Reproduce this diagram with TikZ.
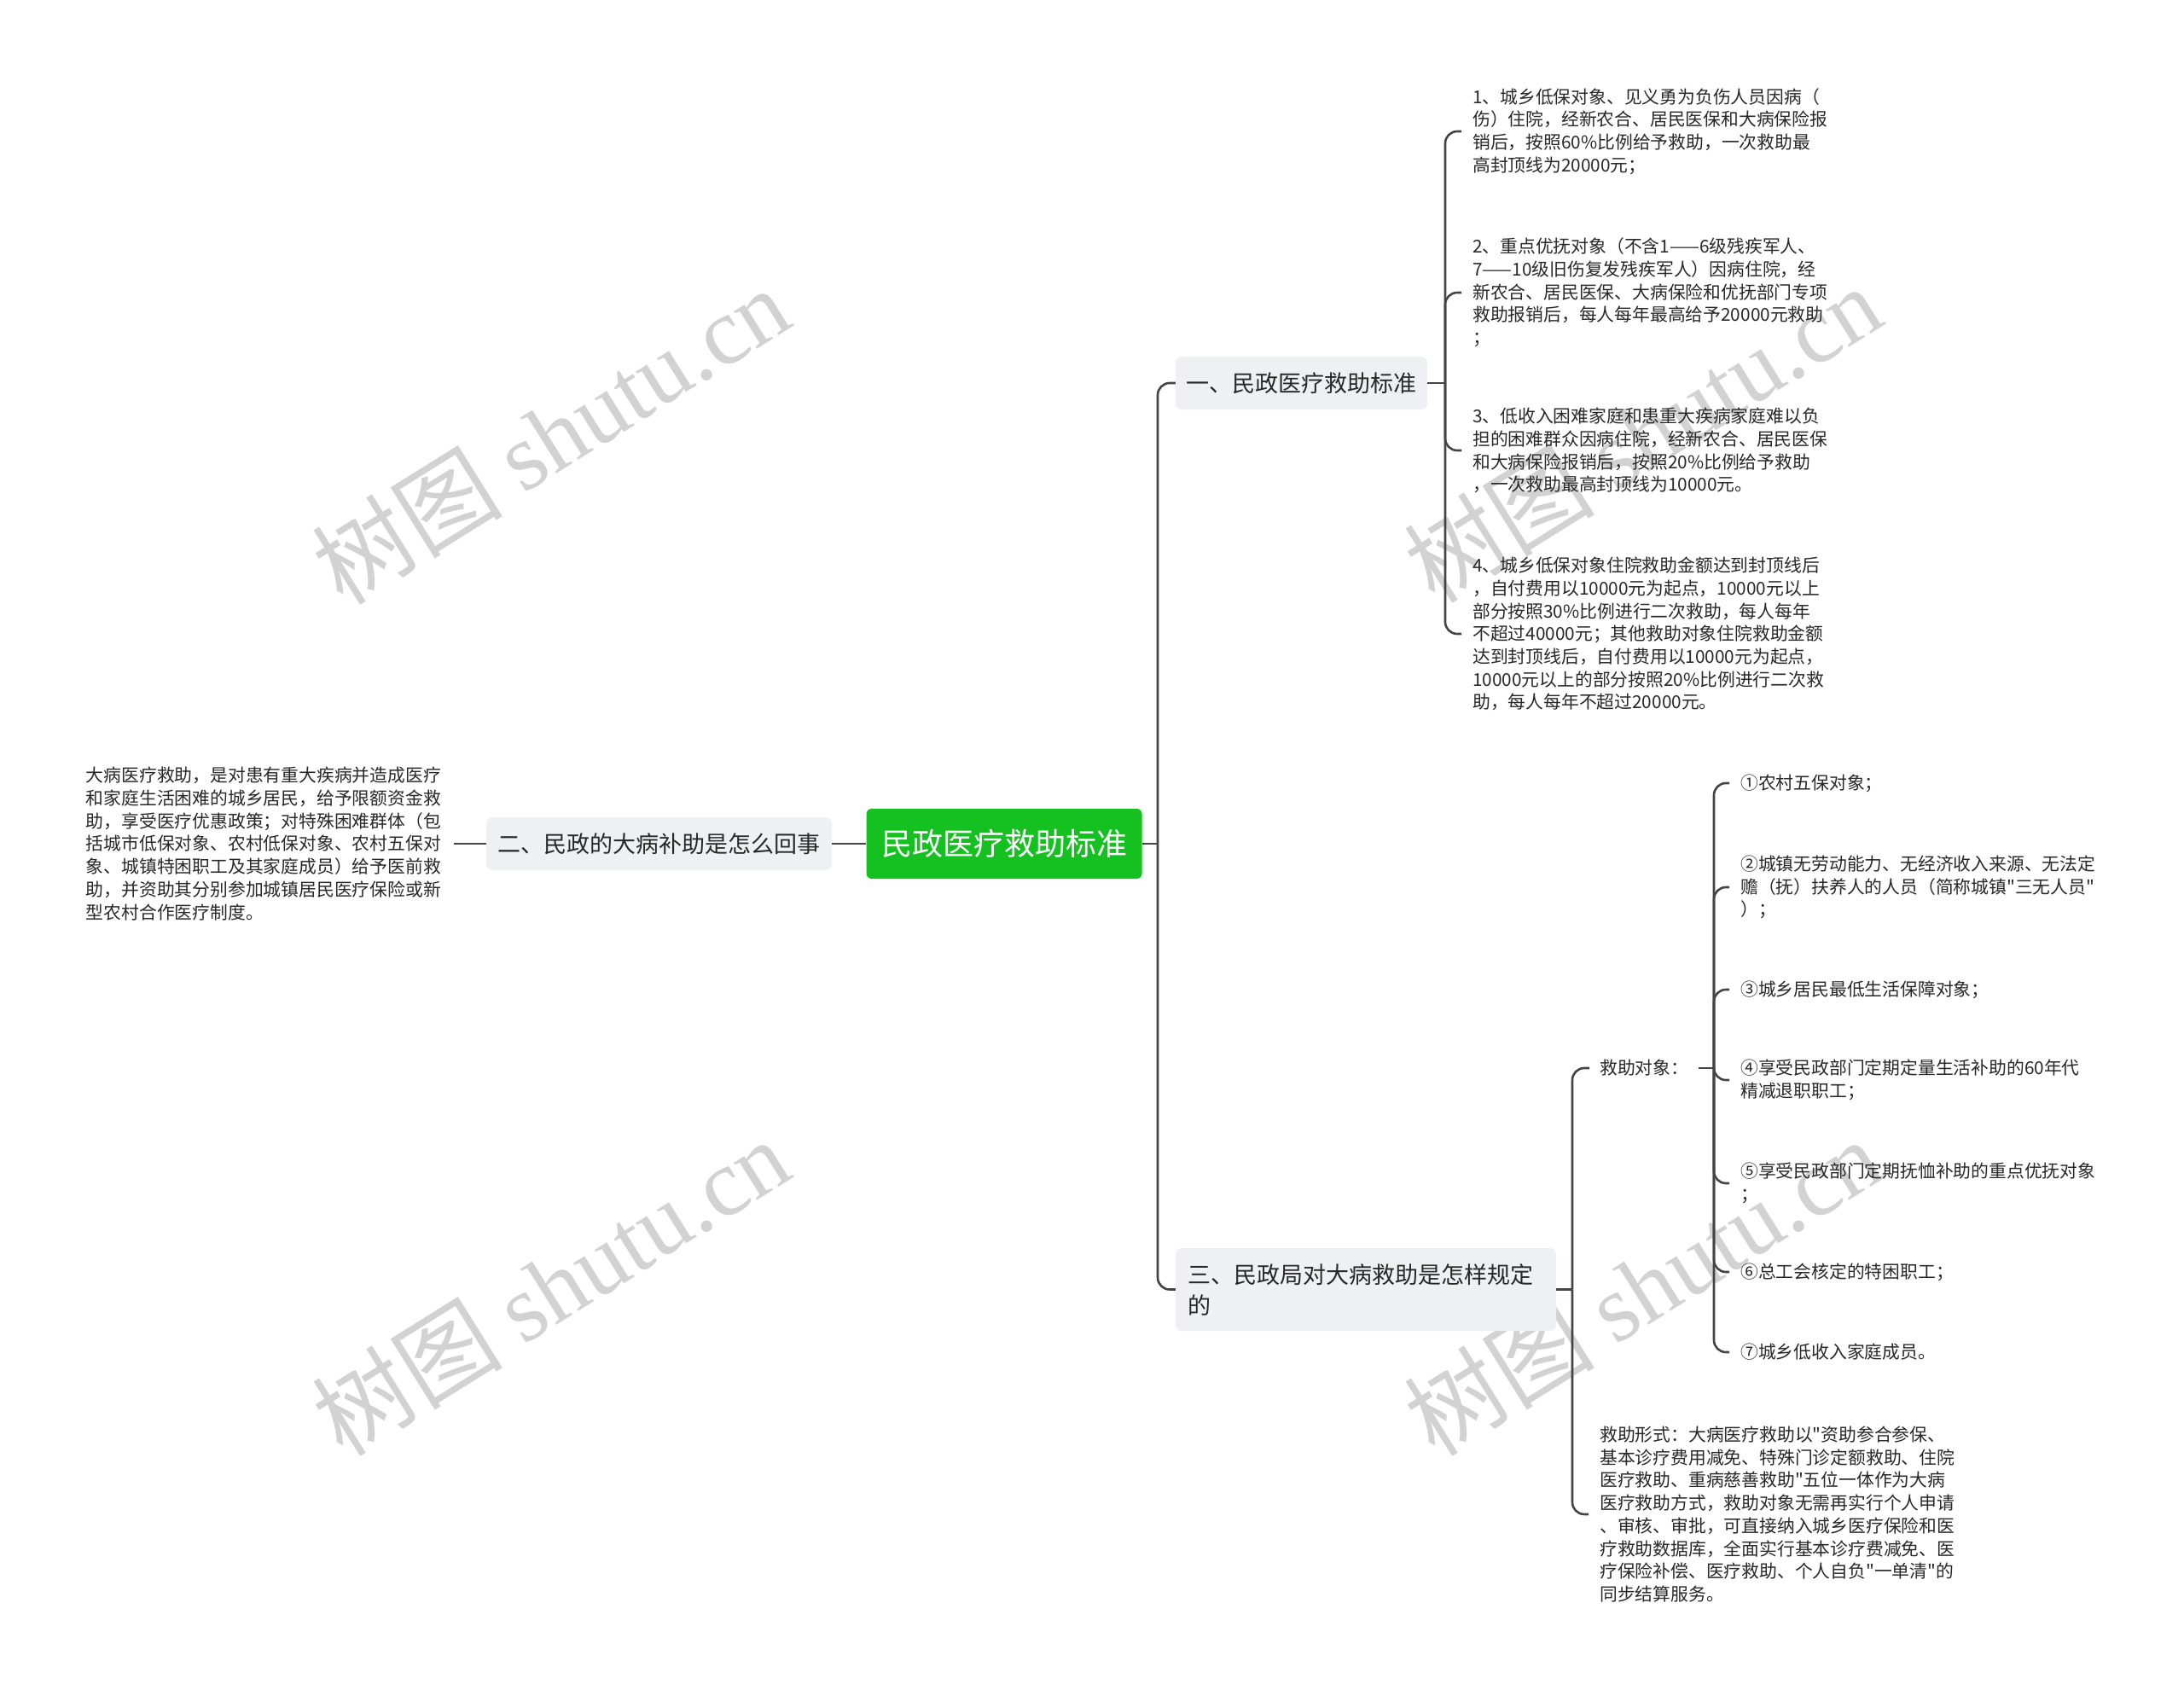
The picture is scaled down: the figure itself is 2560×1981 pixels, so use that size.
\documentclass[tikz,border=0pt]{standalone}
\usepackage{fontspec}
\setmainfont{Noto Sans CJK SC}[Ligatures=TeXOff]
\newfontfamily\wmfont{Liberation Serif}
\usepackage{tikz}

\definecolor{rootgreen}{RGB}{21,193,33}
\definecolor{boxgray}{RGB}{238,240,243}
\definecolor{linegray}{RGB}{68,68,68}
\definecolor{textdark}{RGB}{40,40,40}
\definecolor{wmgray}{RGB}{210,210,210}

\begin{document}
\begin{tikzpicture}[x=1pt,y=-1pt]
  \tikzstyle{root} = [rectangle, rounded corners=6pt, fill=rootgreen, text=white, minimum width=323pt, minimum height=82pt, font=\fontsize{36}{44}\selectfont]
  \tikzstyle{branch} = [rectangle, rounded corners=7pt, fill=boxgray, text=textdark, minimum height=62pt, font=\fontsize{27}{36}\selectfont]
  \tikzstyle{leaf} = [anchor=west, align=left, inner xsep=13pt, inner ysep=0pt, text=textdark, font=\fontsize{20.8}{26.7}\selectfont]
  \tikzstyle{link} = [line width=2.6pt, draw=linegray, rounded corners=14pt]
  \tikzstyle{wmark} = [text=wmgray, font=\fontsize{112}{120}\selectfont, rotate=32]

  \useasboundingbox[fill=white] (0,0) rectangle (2560,1981);

  \node[wmark] (wm1) at (645,510) {树图 {\wmfont shutu.cn}};
  \node[wmark] (wm2) at (1925,508) {树图 {\wmfont shutu.cn}};
  \node[wmark] (wm3) at (645,1508) {树图 {\wmfont shutu.cn}};
  \node[wmark] (wm4) at (1925,1508) {树图 {\wmfont shutu.cn}};

  \node[root] (std) at (1177,989) {民政医疗救助标准};
  \node[branch, minimum width=295pt] (b1) at (1525.5,449) {一、民政医疗救助标准};
  \node[branch, minimum width=405pt] (b2) at (772.5,989) {二、民政的大病补助是怎么回事};
  \node[branch, minimum width=446pt, minimum height=97pt, text width=418pt, align=left] (b3) at (1601,1511.5) {三、民政局对大病救助是怎样规定\\的};

  \draw (1713,154) node[leaf] (l1) {1、城乡低保对象、见义勇为负伤人员因病（\\伤）住院，经新农合、居民医保和大病保险报\\销后，按照60\%比例给予救助，一次救助最\\高封顶线为20000元；}
        (1713,343) node[leaf] (l2) {2、重点优抚对象（不含1——6级残疾军人、\\7——10级旧伤复发残疾军人）因病住院，经\\新农合、居民医保、大病保险和优抚部门专项\\救助报销后，每人每年最高给予20000元救助\\；}
        (1713,528) node[leaf] (l3) {3、低收入困难家庭和患重大疾病家庭难以负\\担的困难群众因病住院，经新农合、居民医保\\和大病保险报销后，按照20\%比例给予救助\\，一次救助最高封顶线为10000元。}
        (1713,743) node[leaf] (l4) {4、城乡低保对象住院救助金额达到封顶线后\\，自付费用以10000元为起点，10000元以上\\部分按照30\%比例进行二次救助，每人每年\\不超过40000元；其他救助对象住院救助金额\\达到封顶线后，自付费用以10000元为起点，\\10000元以上的部分按照20\%比例进行二次救\\助，每人每年不超过20000元。};

  \node[leaf, anchor=east, inner xsep=15pt] (desc) at (532,989) {大病医疗救助，是对患有重大疾病并造成医疗\\和家庭生活困难的城乡居民，给予限额资金救\\助，享受医疗优惠政策；对特殊困难群体（包\\括城市低保对象、农村低保对象、农村五保对\\象、城镇特困职工及其家庭成员）给予医前救\\助，并资助其分别参加城镇居民医疗保险或新\\型农村合作医疗制度。};

  \node[leaf, inner xsep=12pt] (obj) at (1863,1252) {救助对象：};
  \node[leaf] (form) at (1862,1775) {救助形式：大病医疗救助以"资助参合参保、\\基本诊疗费用减免、特殊门诊定额救助、住院\\医疗救助、重病慈善救助"五位一体作为大病\\医疗救助方式，救助对象无需再实行个人申请\\、审核、审批，可直接纳入城乡医疗保险和医\\疗救助数据库，全面实行基本诊疗费减免、医\\疗保险补偿、医疗救助、个人自负"一单清"的\\同步结算服务。};

  \draw (2027,918) node[leaf] (o1) {①农村五保对象；}
        (2027,1040) node[leaf] (o2) {②城镇无劳动能力、无经济收入来源、无法定\\赡（抚）扶养人的人员（简称城镇"三无人员"\\）；}
        (2027,1160) node[leaf] (o3) {③城乡居民最低生活保障对象；}
        (2027,1266) node[leaf] (o4) {④享受民政部门定期定量生活补助的60年代\\精减退职职工；}
        (2027,1387) node[leaf] (o5) {⑤享受民政部门定期抚恤补助的重点优抚对象\\；}
        (2027,1491) node[leaf] (o6) {⑥总工会核定的特困职工；}
        (2027,1585) node[leaf] (o7) {⑦城乡低收入家庭成员。};

  \coordinate (trunk) at (1357,989);
  \coordinate (c1) at (1694,449);
  \coordinate (c3) at (1843,1511.5);
  \coordinate (c4) at (2009,1252);

  \draw[link] (std.east) -- (trunk);
  \draw[link] (b1.west) -| (trunk) |- (b3.west);
  \draw[link] (std.west) -- (b2.east);
  \draw[link] (b2.west) -- (desc.east);
  \draw[link] (b1.east) -- (c1);
  \foreach \n in {l1,l2,l3,l4}
    \draw[link] (c1) |- (\n.west);
  \draw[link] (b3.east) -- (c3);
  \foreach \n in {obj,form}
    \draw[link] (c3) |- (\n.west);
  \draw[link] (obj.east) -- (c4);
  \foreach \n in {o1,o2,o3,o4,o5,o6,o7}
    \draw[link] (c4) |- (\n.west);
\end{tikzpicture}
\end{document}
